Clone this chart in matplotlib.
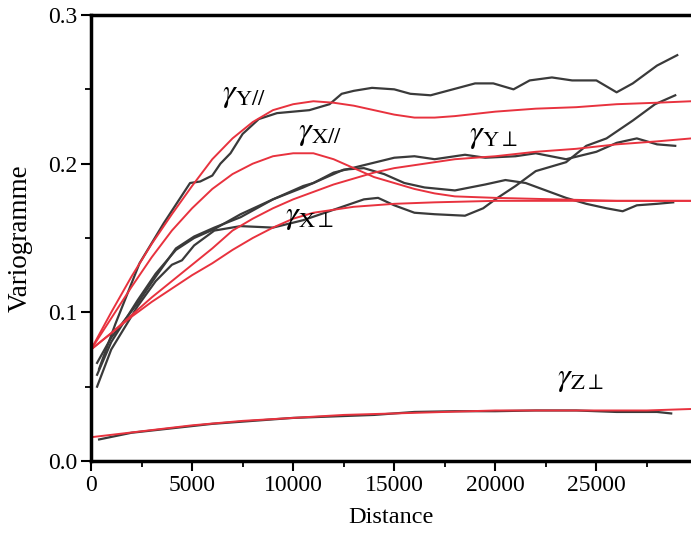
import matplotlib
matplotlib.use('Agg')
import matplotlib.pyplot as plt
from matplotlib.ticker import MultipleLocator, FormatStrFormatter

plt.rcParams['font.family'] = ['Liberation Serif', 'DejaVu Serif']
plt.rcParams['mathtext.fontset'] = 'stix'

# experimental variograms (black)
yp_d = [400, 1200, 2400, 3600, 4900, 5400, 6000, 6400, 6900, 7500, 8300, 9200, 10800, 11800, 12400, 13000,
        13900, 15000, 15800, 16800, 17900, 19000, 19900, 20900, 21700, 22800, 23800, 25000, 26000, 26800,
        28000, 29000]
yp_v = [0.062, 0.092, 0.133, 0.160, 0.187, 0.188, 0.192, 0.200, 0.207, 0.220, 0.230, 0.234, 0.236, 0.240,
        0.247, 0.249, 0.251, 0.250, 0.247, 0.246, 0.250, 0.254, 0.254, 0.250, 0.256, 0.258, 0.256, 0.256,
        0.248, 0.254, 0.266, 0.273]

xp_d = [300, 1000, 2300, 3200, 4200, 5100, 6100, 7400, 9000, 10500, 11500, 12500, 13500, 14500, 15500,
        16500, 18000, 19500, 20500, 21500, 22500, 23500, 24500, 25500, 26300, 27000, 28000, 28800]
xp_v = [0.058, 0.080, 0.108, 0.126, 0.142, 0.150, 0.156, 0.166, 0.176, 0.184, 0.190, 0.196, 0.197, 0.193,
        0.187, 0.184, 0.182, 0.186, 0.189, 0.187, 0.182, 0.177, 0.173, 0.170, 0.168, 0.172, 0.173, 0.174]

yo_d = [300, 1000, 2300, 3200, 4200, 5100, 6100, 7400, 9000, 10500, 11000, 12000, 13500, 15000, 16000,
        17000, 18500, 19500, 21000, 22000, 23500, 25000, 26000, 27000, 28000, 28900]
yo_v = [0.066, 0.083, 0.106, 0.124, 0.143, 0.151, 0.157, 0.164, 0.176, 0.185, 0.187, 0.194, 0.199, 0.204,
        0.205, 0.203, 0.206, 0.204, 0.205, 0.207, 0.203, 0.208, 0.214, 0.217, 0.213, 0.212]

xo_d = [300, 1000, 2300, 3200, 4000, 4500, 5100, 6100, 7400, 9000, 10500, 12000, 13500, 14200, 15000,
        16000, 17000, 18500, 19400, 20000, 21000, 22000, 23500, 24500, 25500, 26800, 27900, 28900]
xo_v = [0.050, 0.075, 0.104, 0.121, 0.132, 0.135, 0.145, 0.155, 0.158, 0.157, 0.162, 0.169, 0.176, 0.177,
        0.172, 0.167, 0.166, 0.165, 0.170, 0.176, 0.185, 0.195, 0.201, 0.212, 0.217, 0.229, 0.240, 0.246]

zo_d = [400, 2000, 4000, 6000, 8000, 10000, 12000, 14000, 16000, 18000, 20000, 22000, 24000, 26000, 28000,
        28700]
zo_v = [0.0145, 0.019, 0.022, 0.025, 0.027, 0.029, 0.030, 0.031, 0.033, 0.0335, 0.0335, 0.034, 0.034,
        0.033, 0.033, 0.032]

# fitted models (red)
myp_d = [0, 1000, 2000, 3000, 4000, 5000, 6000, 7000, 8000, 9000, 10000, 11000, 12000, 13000, 14000, 15000,
         16000, 17000, 18000, 20000, 22000, 24000, 26000, 28000, 29700]
myp_v = [0.075, 0.100, 0.124, 0.146, 0.166, 0.185, 0.203, 0.217, 0.228, 0.236, 0.240, 0.242, 0.241, 0.239,
         0.236, 0.233, 0.231, 0.231, 0.232, 0.235, 0.237, 0.238, 0.240, 0.241, 0.242]

mxp_d = [0, 1000, 2000, 3000, 4000, 5000, 6000, 7000, 8000, 9000, 10000, 11000, 12000, 13000, 14000, 15000,
         16000, 17000, 18000, 20000, 23000, 26000, 29700]
mxp_v = [0.075, 0.096, 0.117, 0.137, 0.155, 0.170, 0.183, 0.193, 0.200, 0.205, 0.207, 0.207, 0.203, 0.197,
         0.191, 0.187, 0.183, 0.180, 0.178, 0.177, 0.176, 0.175, 0.175]

myo_d = [0, 1000, 2000, 3000, 4000, 5000, 6000, 7000, 8000, 9000, 10000, 11000, 12000, 13000, 14000, 15000,
         16000, 17000, 18000, 20000, 22000, 24000, 26000, 28000, 29700]
myo_v = [0.075, 0.086, 0.098, 0.110, 0.121, 0.132, 0.143, 0.155, 0.163, 0.170, 0.176, 0.181, 0.186, 0.190,
         0.194, 0.197, 0.199, 0.201, 0.203, 0.205, 0.208, 0.210, 0.213, 0.215, 0.217]

mxo_d = [0, 1000, 2000, 3000, 4000, 5000, 6000, 7000, 8000, 9000, 10000, 11000, 12000, 13000, 14000, 15000,
         17000, 20000, 29700]
mxo_v = [0.075, 0.086, 0.097, 0.107, 0.116, 0.125, 0.133, 0.142, 0.150, 0.157, 0.163, 0.167, 0.169, 0.171,
         0.172, 0.173, 0.174, 0.175, 0.175]

mzo_d = [0, 2500, 5000, 7500, 10000, 12500, 15000, 17500, 20000, 22500, 25000, 27500, 29700]
mzo_v = [0.016, 0.020, 0.024, 0.027, 0.029, 0.031, 0.032, 0.033, 0.034, 0.034, 0.034, 0.034, 0.035]

labels = [r'$\gamma_{\mathrm{Y//}}$', r'$\gamma_{\mathrm{X//}}$', r'$\gamma_{\mathrm{Y}\perp}$',
          r'$\gamma_{\mathrm{X}\perp}$', r'$\gamma_{\mathrm{Z}\perp}$']
label_d = [6470, 10230, 18720, 9580, 23070]
label_v = [0.2456, 0.220, 0.218, 0.164, 0.055]

fig = plt.figure(figsize=(6.91, 5.38), dpi=100)
ax = fig.add_axes([0.1317, 0.1431, 0.8683, 0.829])

black = '#3a3a3a'
red = '#e8323e'
for d, v in [(yp_d, yp_v), (xp_d, xp_v), (yo_d, yo_v), (xo_d, xo_v), (zo_d, zo_v)]:
    ax.plot(d, v, color=black, lw=1.6)
for d, v in [(myp_d, myp_v), (mxp_d, mxp_v), (myo_d, myo_v), (mxo_d, mxo_v), (mzo_d, mzo_v)]:
    ax.plot(d, v, color=red, lw=1.4)

for t, d, v in zip(labels, label_d, label_v):
    ax.text(d, v, t, fontsize=23, ha='left', va='center')

ax.set_xlim(0, 29680)
ax.set_ylim(0, 0.3)
ax.xaxis.set_major_locator(MultipleLocator(5000))
ax.xaxis.set_minor_locator(MultipleLocator(2500))
ax.yaxis.set_major_locator(MultipleLocator(0.1))
ax.yaxis.set_minor_locator(MultipleLocator(0.05))
ax.yaxis.set_major_formatter(FormatStrFormatter('%.1f'))
ax.tick_params(which='major', direction='out', length=7, width=1.5, labelsize=17, pad=3)
ax.tick_params(which='minor', direction='out', length=4, width=1.3)

for s in ['left', 'bottom', 'top']:
    ax.spines[s].set_linewidth(2.5)
ax.spines['right'].set_visible(False)

ax.set_xlabel('Distance', fontsize=17.5, labelpad=8)
ax.set_ylabel('Variogramme', fontsize=19.5, labelpad=11)

fig.savefig('out.png', dpi=100)
